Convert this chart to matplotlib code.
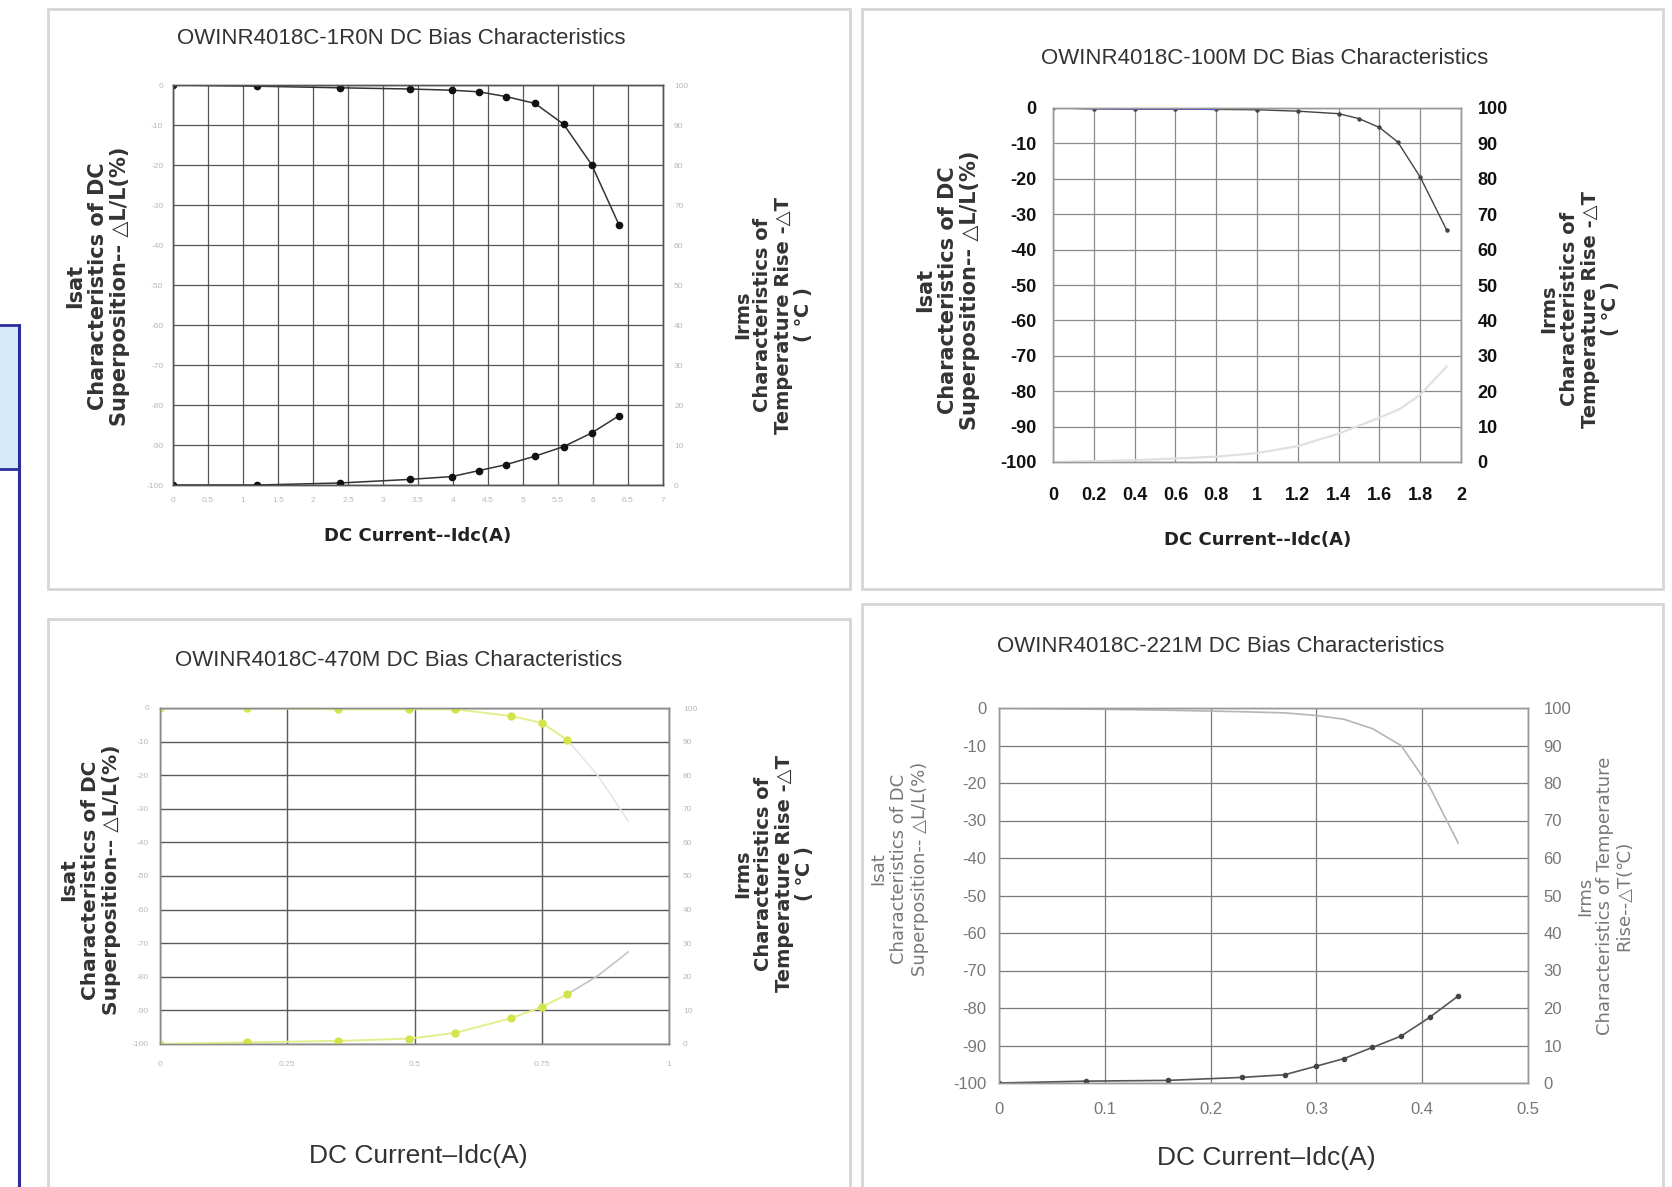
import matplotlib
matplotlib.use('Agg')
import matplotlib.pyplot as plt
from matplotlib.patches import Rectangle

W, H = 1672, 1187
plt.rcParams['font.family'] = ['Liberation Sans', 'DejaVu Sans']
DV = ['DejaVu Sans']

# ---------------- data ----------------
TITLES = ["OWINR4018C-1R0N DC Bias Characteristics",
          "OWINR4018C-100M DC Bias Characteristics",
          "OWINR4018C-470M DC Bias Characteristics",
          "OWINR4018C-221M DC Bias Characteristics"]
XLABEL = "DC Current--Idc(A)"
YLABEL_L = "Isat\nCharacteristics of DC\nSuperposition-- \u25b3L/L(%)"
YLABEL_R = "Irms\nCharacteristics of\nTemperature Rise -\u25b3T\n( \u2103 )"
YLABEL_R4 = "Irms\nCharacteristics of Temperature\nRise--\u25b3T(\u2103)"

L_TICKS = [0, -10, -20, -30, -40, -50, -60, -70, -80, -90, -100]
T_TICKS = [100, 90, 80, 70, 60, 50, 40, 30, 20, 10, 0]

# panel 1 (1R0N)
P1_XTICKS = [0, 0.5, 1, 1.5, 2, 2.5, 3, 3.5, 4, 4.5, 5, 5.5, 6, 6.5, 7]
P1_I = [0, 1.2, 2.38, 3.38, 3.98, 4.37, 4.76, 5.17, 5.58, 5.98, 6.37]
P1_L = [0, -0.3, -0.7, -1.0, -1.3, -1.7, -2.9, -4.6, -9.8, -19.9, -34.9]
P1_T = [0, 0, 0.5, 1.4, 2.1, 3.6, 5.1, 7.2, 9.6, 13.0, 17.3]

# panel 2 (100M)
P2_XTICKS = [0, 0.2, 0.4, 0.6, 0.8, 1, 1.2, 1.4, 1.6, 1.8, 2]
P2_XLABELS = ["0", "0.2", "0.4", "0.6", "0.8", "1", "1.2", "1.4", "1.6", "1.8", "2"]
P2_I = [0, 0.2, 0.4, 0.6, 0.8, 1.0, 1.2, 1.4, 1.5, 1.6, 1.69, 1.8, 1.93]
P2_L = [0, -0.2, -0.3, -0.3, -0.4, -0.5, -0.9, -1.6, -3.0, -5.5, -9.6, -19.5, -34.5]
P2_TI = [0, 0.4, 0.8, 1.0, 1.2, 1.4, 1.6, 1.7, 1.8, 1.93]
P2_T = [0, 0.5, 1.5, 2.5, 4.5, 8.0, 12.5, 15.0, 19.0, 27.0]

# panel 3 (470M)
P3_XTICKS = [0, 0.25, 0.5, 0.75, 1]
P3_I = [0, 0.17, 0.35, 0.49, 0.58, 0.69, 0.75, 0.80]
P3_L = [0, 0, -0.4, -0.4, -0.4, -2.4, -4.4, -9.5]
P3_T = [0, 0.5, 0.9, 1.6, 3.3, 7.7, 11.0, 14.8]
P3_TAIL_I = [0.80, 0.86, 0.92]
P3_TAIL_L = [-9.5, -20.0, -33.7]
P3_TAIL_T = [14.8, 20.3, 27.4]

# panel 4 (221M)
P4_XTICKS = [0, 0.1, 0.2, 0.3, 0.4, 0.5]
P4_I = [0, 0.082, 0.16, 0.23, 0.27, 0.30, 0.326, 0.353, 0.38, 0.407, 0.434]
P4_L = [0, -0.3, -0.6, -1.0, -1.3, -2.0, -3.0, -5.5, -10.0, -21.0, -36.0]
P4_T = [0, 0.5, 0.7, 1.5, 2.2, 4.5, 6.5, 9.5, 12.5, 17.5, 23.2]

# ---------------- figure ----------------
fig = plt.figure(figsize=(W / 100, H / 100), dpi=100)
fig.patch.set_facecolor('white')


def frac_rect(l, t, r, b):
    return [l / W, 1 - b / H, (r - l) / W, (b - t) / H]


def ftext(x, y, s, **kw):
    fig.text(x / W, 1 - y / H, s, **kw)


def frame(l, t, r, b, ec='#d6d6d6', lw=2.0, fc='none'):
    fig.patches.append(Rectangle((l / W, 1 - b / H), (r - l) / W, (b - t) / H,
                                 transform=fig.transFigure, fill=(fc != 'none'),
                                 fc=fc, ec=ec, lw=lw))


# left side decoration
frame(-5, 325, 19, 469, ec='#2d2d9a', lw=2.0, fc='#d6eafa')
fig.lines.append(plt.Line2D([19 / W, 19 / W], [1 - 325 / H, 0], transform=fig.transFigure,
                            color='#2d2d9a', lw=2.2))

# panel frames
frame(48, 9, 850, 589)
frame(862, 9, 1663, 589)
frame(48, 619, 850, 1192)
frame(862, 604, 1663, 1192)


def make_axes(box, xlim, xticks, xlabels, grid_c, grid_lw, tick_kw, lpad, rpad, xpad,
              spine_c='#888888', xgrid=True):
    ax = fig.add_axes(frac_rect(*box))
    ax.set_xlim(*xlim)
    ax.set_ylim(-100, 0)
    ax.set_xticks(xticks)
    ax.set_xticklabels(xlabels)
    ax.set_yticks(L_TICKS)
    ax.set_yticklabels([str(v) for v in L_TICKS])
    ax.grid(True, axis='y', color=grid_c, lw=grid_lw)
    if xgrid:
        ax.grid(True, axis='x', color=grid_c, lw=grid_lw)
    ax.set_axisbelow(True)
    ax2 = ax.twinx()
    ax2.set_ylim(0, 100)
    ax2.set_yticks(T_TICKS)
    ax2.set_yticklabels([str(v) for v in T_TICKS])
    for a in (ax, ax2):
        for s in a.spines.values():
            s.set_color(spine_c)
            s.set_linewidth(1.0)
    ax.tick_params(axis='y', length=0, pad=lpad, **tick_kw)
    ax.tick_params(axis='x', length=0, pad=xpad, **tick_kw)
    ax2.tick_params(axis='y', length=0, pad=rpad, **tick_kw)
    ax2.set_zorder(ax.get_zorder() + 1)
    ax2.patch.set_visible(False)
    return ax, ax2


YL_KW = dict(family=DV, fontweight='bold', color='#333333', ha='center', va='center', rotation=90)

# ---------- panel 1 ----------
tk1 = dict(labelsize=6, labelcolor='#b8b8b8')
ax, ax2 = make_axes((173, 85, 663, 485), (0, 7), P1_XTICKS, [str(v) for v in P1_XTICKS],
                    '#555555', 0.9, tk1, 7, 8, 9, spine_c='#555555')
ax.plot(P1_I, P1_L, color='#333333', lw=1.1, marker='o', ms=4.5, mfc='#111111', mec='#111111')
ax2.plot(P1_I, P1_T, color='#333333', lw=1.1, marker='o', ms=4.5, mfc='#111111', mec='#111111')
ftext(401, 38, TITLES[0], fontsize=16, color='#333333', ha='center', va='center')
ftext(418, 536, XLABEL, fontsize=13, family=DV, fontweight='bold', color='#222222', ha='center', va='center')
ftext(98, 286, YLABEL_L, fontsize=15, linespacing=1.15, **YL_KW)
ftext(773, 315, YLABEL_R, fontsize=14, linespacing=1.1, **YL_KW)

# ---------- panel 2 ----------
tk2 = dict(labelsize=13, labelcolor='#111111')
ax, ax2 = make_axes((1053, 108, 1461, 462), (0, 2), P2_XTICKS, P2_XLABELS,
                    '#8a8a8a', 0.9, tk2, 12, 12, 18, spine_c='#999999')
for lab in ax.get_xticklabels() + ax.get_yticklabels() + ax2.get_yticklabels():
    lab.set_fontweight('bold')
ax2.plot(P2_TI, P2_T, color='#e0e0e0', lw=1.6)
ax.plot(P2_I, P2_L, color='#444444', lw=1.0, marker='o', ms=2.2, mfc='#444444', mec='#444444')
ax.plot(P2_I[:5], P2_L[:5], color='#3b3bd0', lw=1.0)
ftext(1265, 59, TITLES[1], fontsize=16, color='#333333', ha='center', va='center')
ftext(1258, 540, XLABEL, fontsize=13, family=DV, fontweight='bold', color='#222222', ha='center', va='center')
ftext(948, 290, YLABEL_L, fontsize=15, linespacing=1.15, **YL_KW)
ftext(1580, 309, YLABEL_R, fontsize=14, linespacing=1.1, **YL_KW)

# ---------- panel 3 ----------
tk3 = dict(labelsize=6, labelcolor='#b8b8b8')
ax, ax2 = make_axes((160, 708, 669, 1044), (0, 1), P3_XTICKS, [str(v) for v in P3_XTICKS],
                    '#5a5a5a', 1.0, tk3, 8, 10, 12, spine_c='#8a8a8a')
ax.plot(P3_TAIL_I, P3_TAIL_L, color='#e6e6e6', lw=1.2)
ax2.plot(P3_TAIL_I, P3_TAIL_T, color='#c4c4c4', lw=1.2)
ax.plot(P3_I, P3_L, color='#e4ef8c', lw=1.4, marker='o', ms=5, mfc='#d3e44a', mec='#d3e44a')
ax2.plot(P3_I, P3_T, color='#e4ef8c', lw=1.4, marker='o', ms=5, mfc='#d3e44a', mec='#d3e44a')
ftext(399, 661, TITLES[2], fontsize=16, color='#333333', ha='center', va='center')
ftext(418, 1156, XLABEL.replace('--', '\u2013'), fontsize=19, color='#333333', ha='center', va='center')
ftext(90, 880, YLABEL_L, fontsize=14.5, linespacing=1.15, **YL_KW)
ftext(774, 874, YLABEL_R, fontsize=14, linespacing=1.1, **YL_KW)

# ---------- panel 4 ----------
tk4 = dict(labelsize=12, labelcolor='#777777')
ax, ax2 = make_axes((999, 708, 1528, 1083), (0, 0.5), P4_XTICKS, [str(v) for v in P4_XTICKS],
                    '#7a7a7a', 0.9, tk4, 9, 11, 14, spine_c='#999999')
ax.plot(P4_I, P4_L, color='#b5b5b5', lw=1.2)
ax2.plot(P4_I, P4_T, color='#555555', lw=1.2, marker='o', ms=3, mfc='#444444', mec='#444444')
ftext(1221, 646, TITLES[3], fontsize=16, color='#333333', ha='center', va='center')
ftext(1266, 1158, XLABEL.replace('--', '\u2013'), fontsize=19, color='#333333', ha='center', va='center')
ftext(899, 869, YLABEL_L, fontsize=13, family=DV, color='#777777', ha='center', va='center',
      rotation=90, linespacing=1.2)
ftext(1605, 896, YLABEL_R4, fontsize=13, family=DV, color='#777777', ha='center', va='center',
      rotation=90, linespacing=1.1)

fig.savefig('out.png', dpi=100, facecolor='white')
